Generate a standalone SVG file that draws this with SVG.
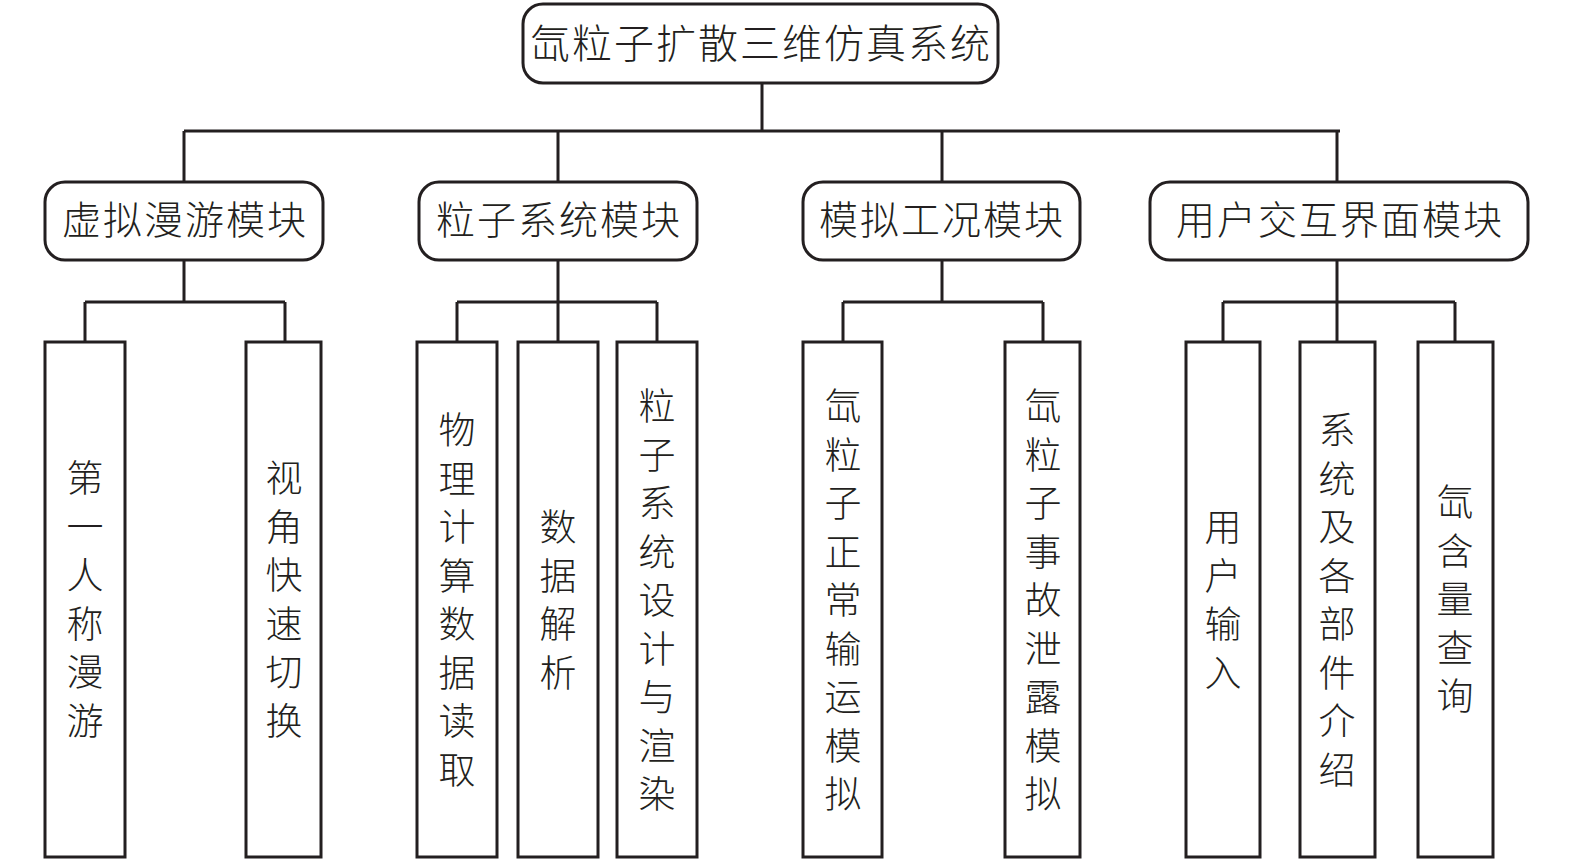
<svg xmlns="http://www.w3.org/2000/svg" width="1575" height="864" viewBox="0 0 1575 864">
<style>
.box{fill:#fff;stroke:#231f20;stroke-width:3}
.ln{fill:none;stroke:#231f20;stroke-width:3}
.t{font-family:"Noto Sans CJK SC","Liberation Serif",sans-serif;font-weight:300;fill:#231f20;text-anchor:middle}
.h{font-size:39px;letter-spacing:2px}
.v{font-size:37px}
</style>
<rect width="1575" height="864" fill="#fff"/>
<g id="connectors" class="ln">
<path d="M762 83V131M184 131H1340M184 131V182M558 131V182M942 131V182M1337 131V182"/>
<path d="M184 260V302M85 302H285M85 302V342M285 302V342"/>
<path d="M558 260V302M457 302H657M457 302V342M558 302V342M657 302V342"/>
<path d="M942 260V302M843 302H1043M843 302V342M1043 302V342"/>
<path d="M1337 260V302M1223 302H1455M1223 302V342M1337 302V342M1455 302V342"/>
</g>
<g id="root"><rect class="box" x="523" y="4" width="475" height="79" rx="20"/><text class="t h" x="761" y="58" style="font-size:40px">氙粒子扩散三维仿真系统</text></g>
<g id="m1"><rect class="box" x="45" y="182" width="278" height="78" rx="20"/><text class="t h" x="185" y="234">虚拟漫游模块</text></g>
<g id="m2"><rect class="box" x="419" y="182" width="278" height="78" rx="20"/><text class="t h" x="559" y="234">粒子系统模块</text></g>
<g id="m3"><rect class="box" x="803" y="182" width="277" height="78" rx="20"/><text class="t h" x="942" y="234">模拟工况模块</text></g>
<g id="m4"><rect class="box" x="1150" y="182" width="378" height="78" rx="20"/><text class="t h" x="1340" y="234">用户交互界面模块</text></g>
<g id="l1"><rect class="box" x="45" y="342" width="80" height="515"/><text class="t v" x="85" y="492"><tspan x="85">第</tspan><tspan x="85" dy="48.5">一</tspan><tspan x="85" dy="48.5">人</tspan><tspan x="85" dy="48.5">称</tspan><tspan x="85" dy="48.5">漫</tspan><tspan x="85" dy="48.5">游</tspan></text></g>
<g id="l2"><rect class="box" x="246" y="342" width="75" height="515"/><text class="t v" x="284" y="492"><tspan x="284">视</tspan><tspan x="284" dy="48.5">角</tspan><tspan x="284" dy="48.5">快</tspan><tspan x="284" dy="48.5">速</tspan><tspan x="284" dy="48.5">切</tspan><tspan x="284" dy="48.5">换</tspan></text></g>
<g id="l3"><rect class="box" x="417" y="342" width="80" height="515"/><text class="t v" x="457" y="444"><tspan x="457">物</tspan><tspan x="457" dy="48.5">理</tspan><tspan x="457" dy="48.5">计</tspan><tspan x="457" dy="48.5">算</tspan><tspan x="457" dy="48.5">数</tspan><tspan x="457" dy="48.5">据</tspan><tspan x="457" dy="48.5">读</tspan><tspan x="457" dy="48.5">取</tspan></text></g>
<g id="l4"><rect class="box" x="518" y="342" width="80" height="515"/><text class="t v" x="558" y="541"><tspan x="558">数</tspan><tspan x="558" dy="48.5">据</tspan><tspan x="558" dy="48.5">解</tspan><tspan x="558" dy="48.5">析</tspan></text></g>
<g id="l5"><rect class="box" x="617" y="342" width="80" height="515"/><text class="t v" x="657" y="420"><tspan x="657">粒</tspan><tspan x="657" dy="48.5">子</tspan><tspan x="657" dy="48.5">系</tspan><tspan x="657" dy="48.5">统</tspan><tspan x="657" dy="48.5">设</tspan><tspan x="657" dy="48.5">计</tspan><tspan x="657" dy="48.5">与</tspan><tspan x="657" dy="48.5">渲</tspan><tspan x="657" dy="48.5">染</tspan></text></g>
<g id="l6"><rect class="box" x="803" y="342" width="79" height="515"/><text class="t v" x="843" y="420"><tspan x="843">氙</tspan><tspan x="843" dy="48.5">粒</tspan><tspan x="843" dy="48.5">子</tspan><tspan x="843" dy="48.5">正</tspan><tspan x="843" dy="48.5">常</tspan><tspan x="843" dy="48.5">输</tspan><tspan x="843" dy="48.5">运</tspan><tspan x="843" dy="48.5">模</tspan><tspan x="843" dy="48.5">拟</tspan></text></g>
<g id="l7"><rect class="box" x="1005" y="342" width="75" height="515"/><text class="t v" x="1043" y="420"><tspan x="1043">氙</tspan><tspan x="1043" dy="48.5">粒</tspan><tspan x="1043" dy="48.5">子</tspan><tspan x="1043" dy="48.5">事</tspan><tspan x="1043" dy="48.5">故</tspan><tspan x="1043" dy="48.5">泄</tspan><tspan x="1043" dy="48.5">露</tspan><tspan x="1043" dy="48.5">模</tspan><tspan x="1043" dy="48.5">拟</tspan></text></g>
<g id="l8"><rect class="box" x="1186" y="342" width="74" height="515"/><text class="t v" x="1223" y="541"><tspan x="1223">用</tspan><tspan x="1223" dy="48.5">户</tspan><tspan x="1223" dy="48.5">输</tspan><tspan x="1223" dy="48.5">入</tspan></text></g>
<g id="l9"><rect class="box" x="1300" y="342" width="75" height="515"/><text class="t v" x="1337" y="444"><tspan x="1337">系</tspan><tspan x="1337" dy="48.5">统</tspan><tspan x="1337" dy="48.5">及</tspan><tspan x="1337" dy="48.5">各</tspan><tspan x="1337" dy="48.5">部</tspan><tspan x="1337" dy="48.5">件</tspan><tspan x="1337" dy="48.5">介</tspan><tspan x="1337" dy="48.5">绍</tspan></text></g>
<g id="l10"><rect class="box" x="1418" y="342" width="75" height="515"/><text class="t v" x="1455" y="516"><tspan x="1455">氙</tspan><tspan x="1455" dy="48.5">含</tspan><tspan x="1455" dy="48.5">量</tspan><tspan x="1455" dy="48.5">查</tspan><tspan x="1455" dy="48.5">询</tspan></text></g>
</svg>
